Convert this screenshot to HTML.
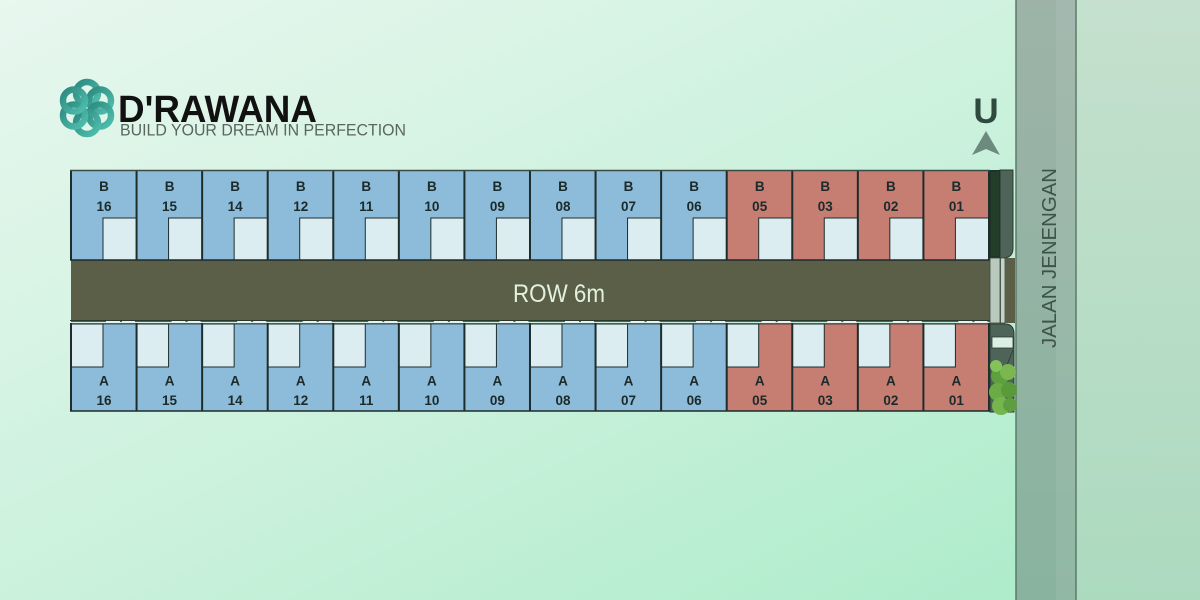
<!DOCTYPE html>
<html>
<head>
<meta charset="utf-8">
<style>
  html,body{margin:0;padding:0;width:1200px;height:600px;overflow:hidden;}
  svg{display:block;}
  .lbl{font-family:"Liberation Sans",sans-serif;font-weight:bold;font-size:13.5px;fill:#1b2a2a;text-anchor:middle;}
</style>
</head>
<body>
<svg width="1200" height="600" viewBox="0 0 1200 600" xmlns="http://www.w3.org/2000/svg">
  <defs>
    <linearGradient id="bg" x1="0" y1="0" x2="1" y2="1">
      <stop offset="0" stop-color="#e8f7ef"/>
      <stop offset="0.5" stop-color="#cbf1dc"/>
      <stop offset="1" stop-color="#a8ebc8"/>
    </linearGradient>
    <linearGradient id="rbg" x1="0" y1="0" x2="0" y2="1">
      <stop offset="0" stop-color="#c5e0ce"/>
      <stop offset="1" stop-color="#acdabf"/>
    </linearGradient>
    <linearGradient id="road" x1="0" y1="0" x2="0" y2="1">
      <stop offset="0" stop-color="#9db3a8"/>
      <stop offset="1" stop-color="#89b39f"/>
    </linearGradient>
    <linearGradient id="teal" x1="0" y1="0" x2="1" y2="1">
      <stop offset="0" stop-color="#2e8a80"/>
      <stop offset="1" stop-color="#4fbfae"/>
    </linearGradient>
  </defs>

  <!-- background -->
  <rect x="0" y="0" width="1200" height="600" fill="url(#bg)"/>
  <rect x="1076" y="0" width="124" height="600" fill="url(#rbg)"/>
  <!-- road -->
  <rect x="1016" y="0" width="60" height="600" fill="url(#road)"/>
  <rect x="1056" y="0" width="20" height="600" fill="#ffffff" opacity="0.07"/>
  <line x1="1016" y1="0" x2="1016" y2="600" stroke="#5c7a6a" stroke-width="1.5"/>
  <line x1="1076" y1="0" x2="1076" y2="600" stroke="#5c7a6a" stroke-width="1.5"/>
  <text x="1056" y="258" transform="rotate(-90 1056 258)" font-family="'Liberation Sans',sans-serif" font-size="20" fill="#3e5449" text-anchor="middle" textLength="180" lengthAdjust="spacingAndGlyphs">JALAN JENENGAN</text>

  <!-- north arrow -->
  <text x="986" y="123" font-family="'Liberation Sans',sans-serif" font-weight="bold" font-size="35" fill="#2f4a3e" text-anchor="middle">U</text>
  <polygon points="986,131 972,155 986,149 1000,155" fill="#6c8a7d"/>

  <!-- logo icon -->
  <g transform="translate(87,108)" fill="none" stroke="url(#teal)" stroke-width="6.5">
    <circle cx="0" cy="-15" r="11"/>
    <circle cx="13" cy="-7.5" r="11"/>
    <circle cx="13" cy="7.5" r="11"/>
    <circle cx="0" cy="15" r="11"/>
    <circle cx="-13" cy="7.5" r="11"/>
    <circle cx="-13" cy="-7.5" r="11"/>
  </g>
  <text x="118" y="122" font-family="'Liberation Sans',sans-serif" font-weight="bold" font-size="38" fill="#111" textLength="199" lengthAdjust="spacingAndGlyphs">D'RAWANA</text>
  <text x="120" y="135.5" font-family="'Liberation Sans',sans-serif" font-size="16.5" fill="#5a6660" textLength="286" lengthAdjust="spacingAndGlyphs">BUILD YOUR DREAM IN PERFECTION</text>

  <!-- ROW -->
  <rect x="71" y="259" width="944" height="63" fill="#5b5f48"/>
  <text x="559" y="302" font-family="'Liberation Sans',sans-serif" font-size="25" fill="#e2f0e0" text-anchor="middle" textLength="92" lengthAdjust="spacingAndGlyphs">ROW 6m</text>

  <!-- lots -->
  <g transform="translate(71,0)">
    <rect x="0" y="171" width="65.57" height="89" fill="#8dbcda"/><rect x="32" y="218" width="33.57" height="42" fill="#dcedf2" stroke="#1e2c2c"/>
    <text class="lbl" x="33" y="191">B</text><text class="lbl" x="33" y="211">16</text>
    <rect x="0" y="324" width="65.57" height="87" fill="#8dbcda"/><rect x="0" y="324" width="32" height="43" fill="#dcedf2" stroke="#1e2c2c"/>
    <text class="lbl" x="33" y="385.5">A</text><text class="lbl" x="33" y="405">16</text>
    <rect x="35" y="321" width="14" height="2.5" fill="#e8f2ee"/><rect x="51" y="321" width="13" height="2.5" fill="#e8f2ee"/>
  </g>
  <g transform="translate(136.57,0)">
    <rect x="0" y="171" width="65.57" height="89" fill="#8dbcda"/><rect x="32" y="218" width="33.57" height="42" fill="#dcedf2" stroke="#1e2c2c"/>
    <text class="lbl" x="33" y="191">B</text><text class="lbl" x="33" y="211">15</text>
    <rect x="0" y="324" width="65.57" height="87" fill="#8dbcda"/><rect x="0" y="324" width="32" height="43" fill="#dcedf2" stroke="#1e2c2c"/>
    <text class="lbl" x="33" y="385.5">A</text><text class="lbl" x="33" y="405">15</text>
    <rect x="35" y="321" width="14" height="2.5" fill="#e8f2ee"/><rect x="51" y="321" width="13" height="2.5" fill="#e8f2ee"/>
  </g>
  <g transform="translate(202.14,0)">
    <rect x="0" y="171" width="65.57" height="89" fill="#8dbcda"/><rect x="32" y="218" width="33.57" height="42" fill="#dcedf2" stroke="#1e2c2c"/>
    <text class="lbl" x="33" y="191">B</text><text class="lbl" x="33" y="211">14</text>
    <rect x="0" y="324" width="65.57" height="87" fill="#8dbcda"/><rect x="0" y="324" width="32" height="43" fill="#dcedf2" stroke="#1e2c2c"/>
    <text class="lbl" x="33" y="385.5">A</text><text class="lbl" x="33" y="405">14</text>
    <rect x="35" y="321" width="14" height="2.5" fill="#e8f2ee"/><rect x="51" y="321" width="13" height="2.5" fill="#e8f2ee"/>
  </g>
  <g transform="translate(267.71,0)">
    <rect x="0" y="171" width="65.57" height="89" fill="#8dbcda"/><rect x="32" y="218" width="33.57" height="42" fill="#dcedf2" stroke="#1e2c2c"/>
    <text class="lbl" x="33" y="191">B</text><text class="lbl" x="33" y="211">12</text>
    <rect x="0" y="324" width="65.57" height="87" fill="#8dbcda"/><rect x="0" y="324" width="32" height="43" fill="#dcedf2" stroke="#1e2c2c"/>
    <text class="lbl" x="33" y="385.5">A</text><text class="lbl" x="33" y="405">12</text>
    <rect x="35" y="321" width="14" height="2.5" fill="#e8f2ee"/><rect x="51" y="321" width="13" height="2.5" fill="#e8f2ee"/>
  </g>
  <g transform="translate(333.28,0)">
    <rect x="0" y="171" width="65.57" height="89" fill="#8dbcda"/><rect x="32" y="218" width="33.57" height="42" fill="#dcedf2" stroke="#1e2c2c"/>
    <text class="lbl" x="33" y="191">B</text><text class="lbl" x="33" y="211">11</text>
    <rect x="0" y="324" width="65.57" height="87" fill="#8dbcda"/><rect x="0" y="324" width="32" height="43" fill="#dcedf2" stroke="#1e2c2c"/>
    <text class="lbl" x="33" y="385.5">A</text><text class="lbl" x="33" y="405">11</text>
    <rect x="35" y="321" width="14" height="2.5" fill="#e8f2ee"/><rect x="51" y="321" width="13" height="2.5" fill="#e8f2ee"/>
  </g>
  <g transform="translate(398.85,0)">
    <rect x="0" y="171" width="65.57" height="89" fill="#8dbcda"/><rect x="32" y="218" width="33.57" height="42" fill="#dcedf2" stroke="#1e2c2c"/>
    <text class="lbl" x="33" y="191">B</text><text class="lbl" x="33" y="211">10</text>
    <rect x="0" y="324" width="65.57" height="87" fill="#8dbcda"/><rect x="0" y="324" width="32" height="43" fill="#dcedf2" stroke="#1e2c2c"/>
    <text class="lbl" x="33" y="385.5">A</text><text class="lbl" x="33" y="405">10</text>
    <rect x="35" y="321" width="14" height="2.5" fill="#e8f2ee"/><rect x="51" y="321" width="13" height="2.5" fill="#e8f2ee"/>
  </g>
  <g transform="translate(464.42,0)">
    <rect x="0" y="171" width="65.57" height="89" fill="#8dbcda"/><rect x="32" y="218" width="33.57" height="42" fill="#dcedf2" stroke="#1e2c2c"/>
    <text class="lbl" x="33" y="191">B</text><text class="lbl" x="33" y="211">09</text>
    <rect x="0" y="324" width="65.57" height="87" fill="#8dbcda"/><rect x="0" y="324" width="32" height="43" fill="#dcedf2" stroke="#1e2c2c"/>
    <text class="lbl" x="33" y="385.5">A</text><text class="lbl" x="33" y="405">09</text>
    <rect x="35" y="321" width="14" height="2.5" fill="#e8f2ee"/><rect x="51" y="321" width="13" height="2.5" fill="#e8f2ee"/>
  </g>
  <g transform="translate(529.99,0)">
    <rect x="0" y="171" width="65.57" height="89" fill="#8dbcda"/><rect x="32" y="218" width="33.57" height="42" fill="#dcedf2" stroke="#1e2c2c"/>
    <text class="lbl" x="33" y="191">B</text><text class="lbl" x="33" y="211">08</text>
    <rect x="0" y="324" width="65.57" height="87" fill="#8dbcda"/><rect x="0" y="324" width="32" height="43" fill="#dcedf2" stroke="#1e2c2c"/>
    <text class="lbl" x="33" y="385.5">A</text><text class="lbl" x="33" y="405">08</text>
    <rect x="35" y="321" width="14" height="2.5" fill="#e8f2ee"/><rect x="51" y="321" width="13" height="2.5" fill="#e8f2ee"/>
  </g>
  <g transform="translate(595.56,0)">
    <rect x="0" y="171" width="65.57" height="89" fill="#8dbcda"/><rect x="32" y="218" width="33.57" height="42" fill="#dcedf2" stroke="#1e2c2c"/>
    <text class="lbl" x="33" y="191">B</text><text class="lbl" x="33" y="211">07</text>
    <rect x="0" y="324" width="65.57" height="87" fill="#8dbcda"/><rect x="0" y="324" width="32" height="43" fill="#dcedf2" stroke="#1e2c2c"/>
    <text class="lbl" x="33" y="385.5">A</text><text class="lbl" x="33" y="405">07</text>
    <rect x="35" y="321" width="14" height="2.5" fill="#e8f2ee"/><rect x="51" y="321" width="13" height="2.5" fill="#e8f2ee"/>
  </g>
  <g transform="translate(661.13,0)">
    <rect x="0" y="171" width="65.57" height="89" fill="#8dbcda"/><rect x="32" y="218" width="33.57" height="42" fill="#dcedf2" stroke="#1e2c2c"/>
    <text class="lbl" x="33" y="191">B</text><text class="lbl" x="33" y="211">06</text>
    <rect x="0" y="324" width="65.57" height="87" fill="#8dbcda"/><rect x="0" y="324" width="32" height="43" fill="#dcedf2" stroke="#1e2c2c"/>
    <text class="lbl" x="33" y="385.5">A</text><text class="lbl" x="33" y="405">06</text>
    <rect x="35" y="321" width="14" height="2.5" fill="#e8f2ee"/><rect x="51" y="321" width="13" height="2.5" fill="#e8f2ee"/>
  </g>
  <g transform="translate(726.70,0)">
    <rect x="0" y="171" width="65.57" height="89" fill="#c67d72"/><rect x="32" y="218" width="33.57" height="42" fill="#dcedf2" stroke="#1e2c2c"/>
    <text class="lbl" x="33" y="191">B</text><text class="lbl" x="33" y="211">05</text>
    <rect x="0" y="324" width="65.57" height="87" fill="#c67d72"/><rect x="0" y="324" width="32" height="43" fill="#dcedf2" stroke="#1e2c2c"/>
    <text class="lbl" x="33" y="385.5">A</text><text class="lbl" x="33" y="405">05</text>
    <rect x="35" y="321" width="14" height="2.5" fill="#e8f2ee"/><rect x="51" y="321" width="13" height="2.5" fill="#e8f2ee"/>
  </g>
  <g transform="translate(792.27,0)">
    <rect x="0" y="171" width="65.57" height="89" fill="#c67d72"/><rect x="32" y="218" width="33.57" height="42" fill="#dcedf2" stroke="#1e2c2c"/>
    <text class="lbl" x="33" y="191">B</text><text class="lbl" x="33" y="211">03</text>
    <rect x="0" y="324" width="65.57" height="87" fill="#c67d72"/><rect x="0" y="324" width="32" height="43" fill="#dcedf2" stroke="#1e2c2c"/>
    <text class="lbl" x="33" y="385.5">A</text><text class="lbl" x="33" y="405">03</text>
    <rect x="35" y="321" width="14" height="2.5" fill="#e8f2ee"/><rect x="51" y="321" width="13" height="2.5" fill="#e8f2ee"/>
  </g>
  <g transform="translate(857.84,0)">
    <rect x="0" y="171" width="65.57" height="89" fill="#c67d72"/><rect x="32" y="218" width="33.57" height="42" fill="#dcedf2" stroke="#1e2c2c"/>
    <text class="lbl" x="33" y="191">B</text><text class="lbl" x="33" y="211">02</text>
    <rect x="0" y="324" width="65.57" height="87" fill="#c67d72"/><rect x="0" y="324" width="32" height="43" fill="#dcedf2" stroke="#1e2c2c"/>
    <text class="lbl" x="33" y="385.5">A</text><text class="lbl" x="33" y="405">02</text>
    <rect x="35" y="321" width="14" height="2.5" fill="#e8f2ee"/><rect x="51" y="321" width="13" height="2.5" fill="#e8f2ee"/>
  </g>
  <g transform="translate(923.41,0)">
    <rect x="0" y="171" width="65.57" height="89" fill="#c67d72"/><rect x="32" y="218" width="33.57" height="42" fill="#dcedf2" stroke="#1e2c2c"/>
    <text class="lbl" x="33" y="191">B</text><text class="lbl" x="33" y="211">01</text>
    <rect x="0" y="324" width="65.57" height="87" fill="#c67d72"/><rect x="0" y="324" width="32" height="43" fill="#dcedf2" stroke="#1e2c2c"/>
    <text class="lbl" x="33" y="385.5">A</text><text class="lbl" x="33" y="405">01</text>
    <rect x="35" y="321" width="14" height="2.5" fill="#e8f2ee"/><rect x="51" y="321" width="13" height="2.5" fill="#e8f2ee"/>
  </g>

  <!-- grid lines -->
  <g stroke="#1e2c2c" stroke-width="2">
    <line x1="71" y1="170" x2="71" y2="260"/><line x1="136.57" y1="170" x2="136.57" y2="260"/>
    <line x1="202.14" y1="170" x2="202.14" y2="260"/><line x1="267.71" y1="170" x2="267.71" y2="260"/>
    <line x1="333.28" y1="170" x2="333.28" y2="260"/><line x1="398.85" y1="170" x2="398.85" y2="260"/>
    <line x1="464.42" y1="170" x2="464.42" y2="260"/><line x1="529.99" y1="170" x2="529.99" y2="260"/>
    <line x1="595.56" y1="170" x2="595.56" y2="260"/><line x1="661.13" y1="170" x2="661.13" y2="260"/>
    <line x1="726.70" y1="170" x2="726.70" y2="260"/><line x1="792.27" y1="170" x2="792.27" y2="260"/>
    <line x1="857.84" y1="170" x2="857.84" y2="260"/><line x1="923.41" y1="170" x2="923.41" y2="260"/>
    <line x1="989" y1="170" x2="989" y2="260"/>
    <line x1="71" y1="323" x2="71" y2="411"/><line x1="136.57" y1="323" x2="136.57" y2="411"/>
    <line x1="202.14" y1="323" x2="202.14" y2="411"/><line x1="267.71" y1="323" x2="267.71" y2="411"/>
    <line x1="333.28" y1="323" x2="333.28" y2="411"/><line x1="398.85" y1="323" x2="398.85" y2="411"/>
    <line x1="464.42" y1="323" x2="464.42" y2="411"/><line x1="529.99" y1="323" x2="529.99" y2="411"/>
    <line x1="595.56" y1="323" x2="595.56" y2="411"/><line x1="661.13" y1="323" x2="661.13" y2="411"/>
    <line x1="726.70" y1="323" x2="726.70" y2="411"/><line x1="792.27" y1="323" x2="792.27" y2="411"/>
    <line x1="857.84" y1="323" x2="857.84" y2="411"/><line x1="923.41" y1="323" x2="923.41" y2="411"/>
    <line x1="989" y1="323" x2="989" y2="411"/>
  </g>
  <line x1="70" y1="170.5" x2="990" y2="170.5" stroke="#3a4a44" stroke-width="1.5"/>
  <line x1="70" y1="260" x2="990" y2="260" stroke="#1e2c2c" stroke-width="1.5"/>
  <line x1="70" y1="320.5" x2="990" y2="320.5" stroke="#2b3530" stroke-width="1"/>
  <line x1="70" y1="323.8" x2="990" y2="323.8" stroke="#1e2c2c" stroke-width="1.2"/>
  <line x1="70" y1="411" x2="990" y2="411" stroke="#1e2c2c" stroke-width="1.5"/>

  <!-- right end strip -->
  <path d="M1000,170 H1013 V248 Q1013,258 1003,258 H1000 Z" fill="#4f6458" stroke="#2a3a32" stroke-width="1"/>
  <rect x="990" y="170" width="10" height="88" fill="#1f3326"/>
  <rect x="991" y="172" width="8" height="84" fill="#24402c" opacity="0.8"/>
  <rect x="990" y="258" width="10" height="65" fill="#b9c9bd" stroke="#3a4a40" stroke-width="0.8"/>
  <rect x="1000.5" y="258" width="4.5" height="65" fill="#c6d3c9" stroke="#3a4a40" stroke-width="0.8"/>
  <rect x="1005" y="258" width="10" height="65" fill="#5b5f48"/>
  <path d="M990,324 H1005 Q1014,324 1014,334 V412 H990 Z" fill="#4f6458" stroke="#2a3a32" stroke-width="1"/>
  <rect x="992" y="337" width="21" height="11" fill="#dcefe6" stroke="#2a3a32" stroke-width="0.8"/>
  <line x1="1013" y1="350" x2="995" y2="395" stroke="#2a3a32" stroke-width="0.8"/>
  <g>
    <circle cx="1000" cy="376" r="9" fill="#5e9f3e"/>
    <circle cx="1008" cy="372" r="8" fill="#7ab84f"/>
    <circle cx="998" cy="392" r="9" fill="#6aab45"/>
    <circle cx="1009" cy="390" r="8" fill="#5a9a3a"/>
    <circle cx="1001" cy="406" r="9" fill="#76b54d"/>
    <circle cx="1010" cy="405" r="7" fill="#5f9e3f"/>
    <circle cx="996" cy="366" r="6" fill="#84c25a"/>
  </g>
</svg>
</body>
</html>
